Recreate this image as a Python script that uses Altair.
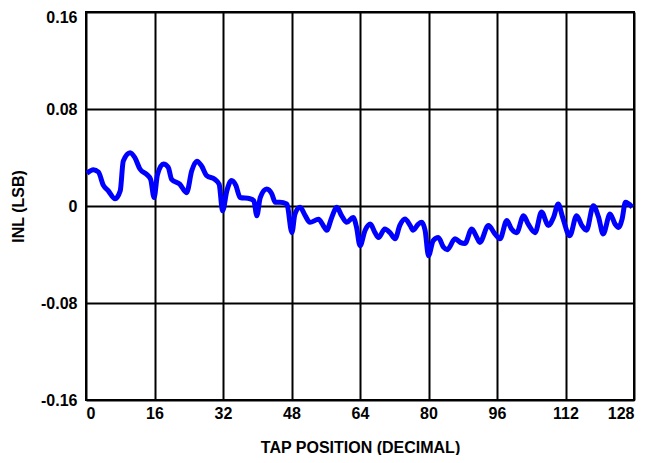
import altair as alt
import pandas as pd

tap = [0.2, 1.7, 2.9, 4.07, 5.2, 6.8, 8.0, 8.7, 10.3, 11.4, 12.6, 14.2, 15.1, 15.9, 16.7, 18.1, 19.2, 20.0,
       21.9, 23.5, 24.7, 25.9, 27.0, 28.2, 30.1, 31.1, 31.9, 32.9, 34.0, 35.0, 36.0, 38.3, 39.2, 39.9, 40.7,
       42.2, 43.4, 44.2, 45.3, 46.9, 48.1, 48.8, 50.0, 51.2, 52.3, 54.3, 55.4, 56.2, 57.4, 58.6, 59.7, 60.9,
       62.4, 63.2, 64.0, 65.2, 66.4, 67.5, 68.3, 69.8, 71.0, 72.2, 73.3, 74.5, 75.7, 76.4, 77.6, 78.4, 79.2,
       80.0, 81.1, 82.3, 83.5, 84.4, 86.2, 87.4, 88.5, 90.1, 91.3, 92.0, 94.0, 95.5, 96.7, 98.3, 99.4, 100.6,
       102.2, 103.3, 104.9, 106.4, 108.0, 109.2, 110.3, 111.3, 113.0, 114.6, 115.8, 116.9, 118.5, 119.7, 120.8,
       122.4, 123.6, 124.4, 125.2, 126.0, 127.6]
inl = [0.027, 0.030, 0.028, 0.017, 0.0126, 0.006, 0.0126, 0.037, 0.044, 0.040, 0.0305, 0.026, 0.022, 0.007,
       0.026, 0.0347, 0.032, 0.022, 0.018, 0.011, 0.029, 0.037, 0.033, 0.025, 0.022, 0.018, -0.004, 0.0126,
       0.021, 0.017, 0.007, 0.006, 0.0044, -0.008, 0.007, 0.014, 0.010, 0.003, 0.003, 0.0017, -0.022, -0.0066,
       -0.001, -0.008, -0.0135, -0.011, -0.016, -0.020, -0.0094, -0.001, -0.008, -0.0135, -0.0094, -0.0177,
       -0.0328, -0.020, -0.0149, -0.022, -0.026, -0.019, -0.022, -0.027, -0.016, -0.0107, -0.016, -0.020,
       -0.015, -0.0135, -0.020, -0.041, -0.0286, -0.026, -0.034, -0.036, -0.027, -0.030, -0.031, -0.019,
       -0.026, -0.030, -0.016, -0.023, -0.027, -0.012, -0.019, -0.022, -0.008, -0.015, -0.022, -0.005, -0.016,
       -0.0094, 0.0017, -0.009, -0.0245, -0.008, -0.016, -0.020, 0.0002, -0.009, -0.023, -0.0066, -0.015,
       -0.0177, -0.011, 0.003, -0.001]

x_ticks = [0, 16, 32, 48, 64, 80, 96, 112, 128]
y_ticks = [-0.16, -0.08, 0, 0.08, 0.16]

df = pd.DataFrame({"tap": tap, "inl": inl})

font = "Liberation Sans"

chart = alt.Chart(df).mark_line(
    color="#0000FF", strokeWidth=5, interpolate="monotone", clip=True
).encode(
    x=alt.X("tap:Q", scale=alt.Scale(domain=[0, 128], nice=False, zero=False),
            axis=alt.Axis(values=x_ticks, title="TAP POSITION (DECIMAL)", format="d",
                          labelPadding=5, titlePadding=18)),
    y=alt.Y("inl:Q", scale=alt.Scale(domain=[-0.16, 0.16], nice=False),
            axis=alt.Axis(values=y_ticks, title="INL (LSB)",
                          labelExpr="datum.value == 0 ? '0' : (datum.value < 0 ? '-' + format(-datum.value, '.2f') : format(datum.value, '.2f'))",
                          labelOffset={"condition": {"test": "datum.value > 0.15", "value": 5}, "value": 0},
                          labelBound=False,
                          labelPadding=9, titlePadding=14)),
).properties(
    width=548, height=388,
    autosize=alt.AutoSizeParams(type="none"),
    padding={"left": 78, "top": 4, "right": 23, "bottom": 55},
).configure_view(
    stroke="black", strokeWidth=2
).configure_axis(
    grid=True, gridColor="black", gridOpacity=1, gridWidth=2,
    domain=False, ticks=False,
    labelFont=font, labelFontWeight="bold", labelFontSize=16, labelColor="black",
    titleFont=font, titleFontWeight="bold", titleFontSize=16, titleColor="black",
)

chart.save("out.html", embed_options={"renderer": "svg", "actions": False})
